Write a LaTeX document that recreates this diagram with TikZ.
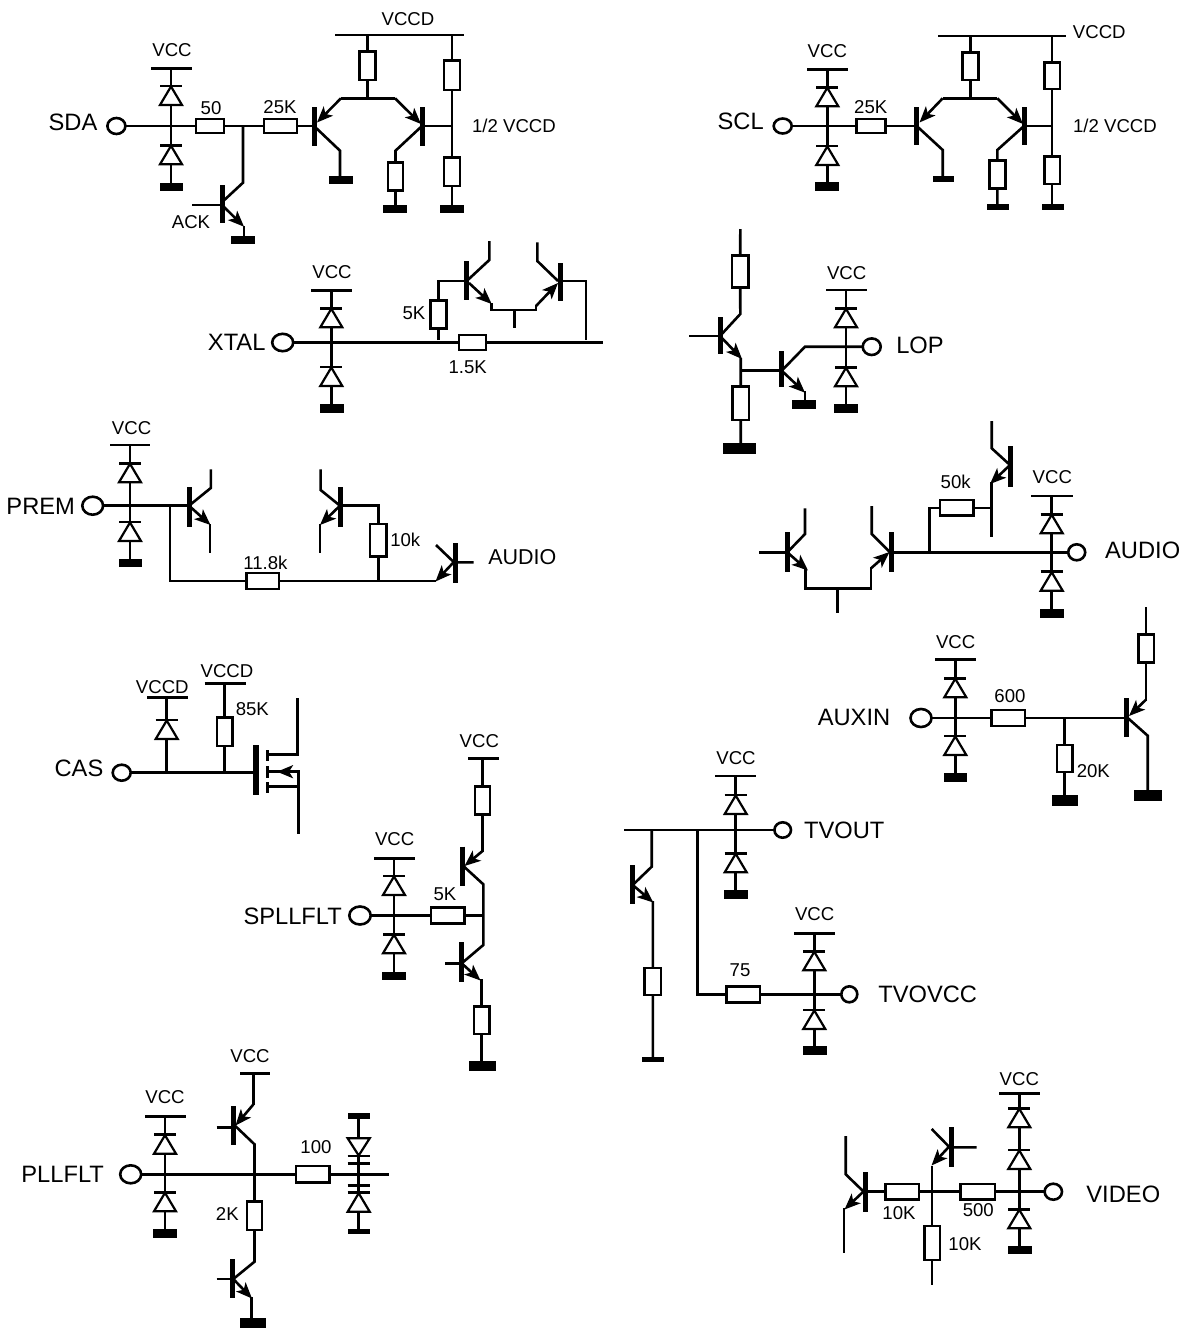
\documentclass[tikz,border=0pt]{standalone}
\usepackage{fontspec}
\setmainfont{Liberation Sans}
\usetikzlibrary{arrows.meta,shapes.geometric}
\tikzset{
  w/.style={line width=2.6pt},
  ar/.style={line width=2.6pt,-{Stealth[length=16pt,width=13pt,inset=4pt]}},
  resbox/.style={draw,line width=2.6pt,fill=white,inner sep=0pt,outer sep=0pt,rectangle},
  termnode/.style={draw,line width=2.6pt,fill=white,inner sep=0pt,outer sep=0pt,ellipse},
  small/.style={inner sep=0pt,font=\fontsize{18.6}{21}\selectfont},
  big/.style={inner sep=0pt,font=\fontsize{23.7}{26}\selectfont}
}
% name x1 y1 x2 y2
\newcommand{\cRes}[5]{\node[resbox,minimum width={(#4)-(#2)},minimum height={(#5)-(#3)}] (#1) at ({(#2+#4)/2},{(#3+#5)/2}) {};}
% name cx cy rx ry
\newcommand{\cTerm}[5]{\node[termnode,minimum width={2*(#4)},minimum height={2*(#5)}] (#1) at (#2,#3) {};}
% x, y of bar: bar and up triangle
\newcommand{\cDio}[2]{\draw[w] ({#1-11},#2) -- ({#1+11},#2);\draw[line width=2.2pt,fill=white,line join=miter] (#1,{#2+0.5}) -- ({#1+11},{#2+19}) -- ({#1-11},{#2+19}) -- cycle;}
% filled ground block
\newcommand{\cGnd}[4]{\fill (#1,#2) rectangle (#3,#4);}
% thick transistor bar
\newcommand{\cBar}[3]{\draw[line width=5pt] (#1,#2) -- (#1,#3);}
\newcommand{\cTxt}[4]{\node[small] (#1) at (#2,#3) {#4};}
\newcommand{\cLbl}[4]{\node[big] (#1) at (#2,#3) {#4};}
\begin{document}
\begin{tikzpicture}[x=1pt,y=-1pt]
\path[use as bounding box,fill=white] (0,0) rectangle (1189,1330);

% ---------- SDA
\cRes{aR1}{196}{119}{224}{133}
\cRes{aR2}{264}{119}{297}{133}
\cRes{aR3}{359.5}{51.7}{375.5}{80}
\cRes{aR4}{444}{60.7}{460}{90}
\cRes{aR5}{444}{157.7}{460}{186}
\cRes{aR6}{388}{162.7}{403}{190.7}
\cTerm{aT}{116.4}{126}{9}{8}
\draw[w] (aT.east) -- (aR1.west) (aR1.east) -- (aR2.west) (aR2.east) -- (314,126);
\draw[w] (151,68.3) -- (192,68.3) (171,68.3) -- (171,183);
\draw[w] (243,126) -- (243,182.7) -- (222.5,201.7);
\draw[w] (192,205) -- (222,205);
\draw[ar] (222,205) -- (244,226.7);
\draw[w] (244,226) -- (244,237);
\draw[w] (335,35) -- (464,35) (367.5,35) -- (aR3.north) (aR3.south) -- (367.5,98.3);
\draw[w] (452,35) -- (aR4.north) (aR4.south) -- (aR5.north) (aR5.south) -- (452,206);
\draw[w] (395,98.3) -- (341,98.3);
\draw[ar] (341,98.3) -- (317,122.5);
\draw[ar] (395,98.3) -- (421,124);
\draw[w] (422,126) -- (452,126);
\draw[w] (314,126) -- (340,150.7) -- (340,177);
\draw[w] (422,126) -- (395.5,150.7) -- (aR6.north) (aR6.south) -- (395.5,206);
\cDio{171}{86}\cDio{171}{145.3}
\cGnd{160}{182.7}{183}{190.7}
\cGnd{231}{236}{255}{244.3}
\cGnd{329}{176}{353}{184.3}
\cGnd{383}{205}{407}{213.3}
\cGnd{439.5}{205}{463.5}{213.3}
\cBar{222}{185}{222.7}\cBar{314}{107.3}{145.7}\cBar{422}{107.3}{145.7}
\cTxt{aL1}{172}{50.5}{VCC}\cTxt{aL2}{408}{19}{VCCD}\cTxt{aL3}{211}{108.5}{50}\cTxt{aL4}{280}{107.5}{25K}
\cLbl{aL5}{73}{122.5}{SDA}\cTxt{aL6}{514}{126}{1/2 VCCD}\cTxt{aL7}{191}{221.7}{ACK}

% ---------- SCL
\cRes{bR2}{856.7}{119}{885.3}{133}
\cRes{bR3}{962.7}{52.7}{978.3}{80}
\cRes{bR4}{1044.3}{62.3}{1060}{89}
\cRes{bR5}{1044.3}{156.7}{1060}{184}
\cRes{bR6}{989.3}{160.7}{1005.3}{188.3}
\cTerm{bT}{782.7}{126}{9}{7.5}
\draw[w] (bT.east) -- (bR2.west) (bR2.east) -- (916.7,126);
\draw[w] (807.3,69.3) -- (847.7,69.3) (827.3,69.3) -- (827.3,183);
\draw[w] (938.3,36) -- (1065.7,36) (970.5,36) -- (bR3.north) (bR3.south) -- (970.5,98.3);
\draw[w] (1052.15,36) -- (bR4.north) (bR4.south) -- (bR5.north) (bR5.south) -- (1052.15,205);
\draw[w] (997.3,98.3) -- (942.7,98.3);
\draw[ar] (942.7,98.3) -- (919.5,122.5);
\draw[ar] (997.3,98.3) -- (1023,124);
\draw[w] (1024,126) -- (1052,126);
\draw[w] (916.7,126) -- (942.7,150) -- (942.7,177);
\draw[w] (1024,126) -- (997.3,150) -- (bR6.north) (bR6.south) -- (997.3,205);
\cDio{827.3}{87.3}\cDio{827.3}{146}
\cGnd{815}{182.3}{839}{190.7}
\cGnd{932.7}{176}{954}{181.7}
\cGnd{987.3}{204}{1009}{210}
\cGnd{1042}{204}{1064}{210}
\cBar{916.7}{107.3}{145}\cBar{1024}{107.3}{145}
\cTxt{bL1}{827.3}{50.7}{VCC}\cTxt{bL2}{1099.3}{31.7}{VCCD}\cTxt{bL4}{870.7}{106.7}{25K}
\cLbl{bL5}{740.7}{121.7}{SCL}\cTxt{bL6}{1115}{126}{1/2 VCCD}

% ---------- XTAL
\cRes{cR1}{430.7}{300.7}{446.3}{328.3}
\cRes{cR2}{459}{335}{486}{350}
\cTerm{cT}{282.7}{342.5}{10.5}{8.7}
\draw[w] (cT.east) -- (cR2.west) (cR2.east) -- (602.7,342.5);
\draw[w] (311,290.3) -- (352,290.3) (331.3,290.3) -- (331.3,405);
\draw[w] (438.5,340) -- (cR1.south) (cR1.north) -- (438.5,281) -- (466.7,281);
\draw[w] (489.3,241) -- (489.3,260) -- (466.7,281);
\draw[ar] (469,283) -- (491.7,304);
\draw[w] (491.7,303) -- (491.7,310) -- (536,310) -- (536,305);
\draw[ar] (536,306) -- (558,283);
\draw[w] (558,281) -- (537.3,261) -- (537.3,242.3);
\draw[w] (560,281) -- (586,281) -- (586,339.5);
\draw[w] (514.3,310) -- (514.3,327.7);
\cDio{331.3}{308.3}\cDio{331.3}{367}
\cGnd{320}{404}{344}{412.7}
\cBar{466.7}{261}{300}\cBar{560}{263}{300.7}
\cTxt{cL1}{332}{272.3}{VCC}\cTxt{cL2}{414}{312.7}{5K}\cTxt{cL3}{467.7}{366.7}{1.5K}
\cLbl{cL5}{236.7}{342.7}{XTAL}

% ---------- LOP
\cRes{dR1}{732}{255.7}{748.5}{287.7}
\cRes{dR2}{732.5}{386.7}{749}{420}
\cTerm{dT}{871.7}{346.7}{9}{8.3}
\draw[w] (740.3,229) -- (dR1.north) (dR1.south) -- (740.3,314) -- (720,336);
\draw[w] (689,336) -- (720,336);
\draw[ar] (720,336) -- (742,359);
\draw[w] (740.7,358) -- (dR2.north) (dR2.south) -- (740.7,444);
\draw[w] (741,370.7) -- (781.7,370.7);
\draw[w] (781.7,370.7) -- (805,346.7) -- (dT.west);
\draw[ar] (781.7,370.7) -- (805,392.7);
\draw[w] (805,391) -- (805,401);
\draw[w] (826,290) -- (866.7,290) (846,290) -- (846,405);
\cDio{846}{308.3}\cDio{846}{367.3}
\cGnd{792.3}{400}{816}{409}
\cGnd{834}{404.3}{857.7}{412.7}
\cGnd{723.3}{443.3}{755.7}{454}
\cBar{720}{317.3}{354.3}\cBar{781.7}{351}{387.3}
\cTxt{dL1}{846.7}{273}{VCC}\cLbl{dL5}{920}{345.5}{LOP}

% ---------- PREM
\cRes{eR1}{246.5}{573}{279}{589}
\cRes{eR2}{370}{524}{386.4}{556.7}
\cTerm{eT}{92.7}{505.7}{10.4}{9}
\draw[w] (eT.east) -- (189,505.7);
\draw[w] (110,445) -- (150,445) (130,445) -- (130,560);
\draw[w] (170,505.7) -- (170,581) -- (eR1.west) (eR1.east) -- (435.5,581);
\draw[w] (189,505.7) -- (210.8,488) -- (210.8,469.3);
\draw[ar] (189,505.7) -- (210.5,525);
\draw[w] (210,524) -- (210,552.7);
\draw[w] (340,505.7) -- (320.6,490) -- (320.6,469.3);
\draw[ar] (340,505.7) -- (320,525);
\draw[w] (320,524) -- (320,552.7);
\draw[w] (340.6,505.7) -- (378.2,505.7) -- (eR2.north) (eR2.south) -- (378.2,581);
\draw[w] (455,562.3) -- (473.6,562.3) (454,562.3) -- (436,545);
\draw[ar] (453.6,562.3) -- (435.5,581.5);
\cDio{130}{463.3}\cDio{130}{522}
\cGnd{119}{559.3}{142}{567.3}
\cBar{189}{487.3}{526.7}\cBar{340.6}{487.3}{526.7}\cBar{455}{543.3}{583.3}
\cTxt{eL1}{131.6}{428.3}{VCC}\cTxt{eL2}{405.3}{540}{10k}\cTxt{eL3}{265.4}{563.3}{11.8k}
\cLbl{eL5}{40.7}{506.7}{PREM}\cTxt{eL6}{522.4}{557.3}{\fontsize{21.5}{24}\selectfont AUDIO}

% ---------- AUDIO right
\cRes{fR1}{940}{500}{973.3}{515.6}
\cTerm{fT}{1076.7}{552.3}{8.5}{8}
\draw[w] (759,552.3) -- (787.3,552.3);
\draw[w] (787.3,552.3) -- (805,534) -- (805,508.3);
\draw[ar] (787.3,552.3) -- (808,570.5);
\draw[w] (805.7,569) -- (805.7,588.3) -- (871,588.3) -- (871,567);
\draw[ar] (871,568.3) -- (889.5,552);
\draw[w] (890,552.3) -- (871.7,534) -- (871.7,506);
\draw[w] (837.3,588.3) -- (837.3,612.7);
\draw[w] (891.3,552.3) -- (fT.west);
\draw[w] (929.3,552.3) -- (929.3,507.8) -- (fR1.west) (fR1.east) -- (991.7,507.8);
\draw[w] (991.7,482) -- (991.7,537.3);
\draw[ar] (1010,465) -- (990,484);
\draw[w] (1010,465) -- (991.7,448.3) -- (991.7,421);
\draw[w] (1031,496) -- (1072.7,496) (1051.7,496) -- (1051.7,610);
\cDio{1051.7}{514.3}\cDio{1051.7}{571.7}
\cGnd{1040}{609}{1064}{617.7}
\cBar{787.3}{532.3}{571.7}\cBar{891.3}{532.3}{571.7}\cBar{1010}{446}{486.7}
\cTxt{fL1}{1052.3}{477.3}{VCC}\cTxt{fL2}{955.7}{482.3}{50k}\cLbl{fL5}{1142.7}{550}{AUDIO}

% ---------- CAS
\cRes{gR1}{217}{717.7}{232.5}{746}
\cTerm{gT}{121.7}{772.7}{9}{8}
\draw[w] (gT.east) -- (256,772.7);
\draw[w] (147,697.3) -- (187.7,697.3) (166.7,697.3) -- (166.7,772.7);
\draw[w] (204.7,683.3) -- (245.7,683.3) (224.75,683.3) -- (gR1.north) (gR1.south) -- (224.75,774);
\draw[w] (267.3,754.3) -- (297.7,754.3) -- (297.7,698.3);
\draw[w] (267.3,786.7) -- (298.3,786.7);
\draw[w] (267.3,771.7) -- (298.3,771.7) -- (298.3,834.3);
\draw[ar] (292,771.7) -- (277,771.7);
\cDio{166.7}{720}
\draw[line width=3pt] (267.3,750) -- (267.3,761) (267.3,766) -- (267.3,778.3) (267.3,782.3) -- (267.3,793.3);
\draw[line width=6pt] (256,745) -- (256,795);
\cTxt{gL1}{162.3}{686.7}{VCCD}\cTxt{gL2}{227}{670.7}{VCCD}\cTxt{gL3}{252.3}{709}{85K}
\cLbl{gL5}{79}{768.3}{CAS}

% ---------- SPLLFLT
\cRes{hR1}{431}{907.7}{464.3}{923.3}
\cRes{hR2}{475}{786.7}{490}{814.3}
\cRes{hR3}{474}{1006.7}{489.3}{1034}
\cTerm{hT}{360}{915.5}{10.7}{9}
\draw[w] (hT.east) -- (hR1.west) (hR1.east) -- (483.3,915.5);
\draw[w] (374,858.3) -- (415,858.3) (394,858.3) -- (394,972);
\draw[w] (468.3,758.3) -- (498.7,758.3) (482.5,758.3) -- (hR2.north) (hR2.south) -- (482.5,851.7);
\draw[ar] (482.5,851) -- (464.5,866);
\draw[w] (463,865.7) -- (483.3,884.3) -- (483.3,945) -- (461.7,963.3);
\draw[w] (445,963.3) -- (461.7,963.3);
\draw[ar] (461.7,963.3) -- (480.5,980.5);
\draw[w] (481.65,979) -- (hR3.north) (hR3.south) -- (481.65,1061);
\cDio{394}{876}\cDio{394}{934.3}
\cGnd{382.3}{971.7}{406}{980}
\cGnd{469.3}{1060.7}{496}{1070.7}
\cBar{462.3}{846.7}{886}\cBar{461.7}{942.3}{981.7}
\cTxt{hL1}{479.3}{740.7}{VCC}\cTxt{hL2}{394.7}{839.3}{VCC}\cTxt{hL3}{445}{894}{5K}
\cLbl{hL5}{292.7}{916}{SPLLFLT}

% ---------- TVOUT
\cRes{iR1}{644.7}{968}{661}{995}
\cRes{iR2}{726.7}{986.3}{760}{1002.3}
\cTerm{iT}{782.7}{830}{8.3}{7.7}
\cTerm{jT}{849.3}{994.3}{8}{8}
\draw[w] (624,830) -- (iT.west);
\draw[w] (715,776) -- (755.7,776) (735.7,776) -- (735.7,891);
\draw[w] (651.7,830) -- (651.7,866.7) -- (632.7,885);
\draw[ar] (632.7,885) -- (653.3,902.5);
\draw[w] (652.85,901) -- (iR1.north) (iR1.south) -- (652.85,1057);
\draw[w] (697.7,830) -- (697.7,994.3) -- (iR2.west) (iR2.east) -- (jT.west);
\draw[w] (794,933.3) -- (835,933.3) (814.3,933.3) -- (814.3,1047);
\cDio{735.7}{795}\cDio{735.7}{853.3}\cDio{814.3}{951.3}\cDio{814.3}{1010}
\cGnd{724}{890}{747.7}{898.7}
\cGnd{803.3}{1046}{826.7}{1054.7}
\cGnd{642.3}{1056.7}{664}{1061.7}
\cBar{632.7}{865}{904.3}
\cTxt{iL1}{736}{758.3}{VCC}\cTxt{iL2}{814.7}{914}{VCC}\cTxt{iL3}{740}{970}{75}
\cLbl{iL5}{844.3}{830.7}{TVOUT}\cLbl{iL6}{927.7}{994}{TVOVCC}

% ---------- AUXIN
\cRes{kR1}{991.7}{710}{1025}{726}
\cRes{kR2}{1057}{745}{1072.3}{772}
\cRes{kR3}{1138.3}{634.7}{1154}{662.7}
\cTerm{kT}{921}{718}{10.5}{9}
\draw[w] (kT.east) -- (kR1.west) (kR1.east) -- (1126.7,718);
\draw[w] (935,659.3) -- (975.7,659.3) (955.3,659.3) -- (955.3,774);
\draw[w] (1064.65,718) -- (kR2.north) (kR2.south) -- (1064.65,796);
\draw[w] (1146.15,607.3) -- (kR3.north) (kR3.south) -- (1146.15,700);
\draw[ar] (1146.15,699.5) -- (1129,716);
\draw[w] (1127,717.3) -- (1147.7,735.7) -- (1147.7,791);
\cDio{955.3}{678.3}\cDio{955.3}{736}
\cGnd{944}{773.3}{967.3}{781.7}
\cGnd{1052.3}{795.3}{1077.7}{805.7}
\cGnd{1134.3}{790.3}{1161.7}{800.7}
\cBar{1126.7}{698.3}{737.3}
\cTxt{kL1}{955.7}{641.7}{VCC}\cTxt{kL2}{1010}{696}{600}\cTxt{kL3}{1093.3}{770.7}{20K}
\cLbl{kL5}{854}{717.7}{AUXIN}

% ---------- PLLFLT
\cRes{lR1}{296}{1166}{329.3}{1182.6}
\cRes{lR2}{247}{1201.7}{262}{1230}
\cTerm{lT}{130.7}{1174.3}{10.5}{9}
\draw[w] (lT.east) -- (lR1.west) (lR1.east) -- (389.3,1174.3);
\draw[w] (145,1116.3) -- (185.7,1116.3) (165,1116.3) -- (165,1230);
\draw[w] (240,1073.3) -- (270,1073.3) (253.3,1073.3) -- (253.3,1105);
\draw[ar] (253.3,1104.5) -- (235.5,1125.5);
\draw[w] (216.7,1127.3) -- (233.3,1127.3);
\draw[w] (235,1125.7) -- (254.5,1144.3) -- (254.5,1174.3) -- (lR2.north) (lR2.south) -- (254.5,1261.7) -- (233.3,1279);
\draw[w] (216.7,1279) -- (233.3,1279);
\draw[ar] (233.3,1279) -- (252,1298.5);
\draw[w] (251.7,1297) -- (251.7,1319);
\draw[w] (358.7,1116) -- (358.7,1232);
\draw[line width=2.2pt,fill=white] (358.7,1155.5) -- (369.7,1138.3) -- (347.7,1138.3) -- cycle;
\draw[w] (347.7,1156) -- (369.7,1156) (347.7,1163.5) -- (369.7,1163.5) (347.7,1185.5) -- (369.7,1185.5);
\cDio{358.7}{1192.7}
\cDio{165}{1134.7}\cDio{165}{1192.3}
\cGnd{153.3}{1229.3}{176.7}{1237.7}
\cGnd{240}{1318.3}{265.7}{1328.3}
\cGnd{348.3}{1113.3}{370}{1118.7}
\cGnd{348.3}{1229.3}{370}{1234.3}
\cBar{233.3}{1106}{1145.3}\cBar{232.7}{1259.3}{1298.3}
\cTxt{lL1}{250}{1055.7}{VCC}\cTxt{lL2}{165}{1097.3}{VCC}\cTxt{lL3}{316}{1146.7}{100}\cTxt{lL4}{227.3}{1214}{2K}
\cLbl{lL5}{62.7}{1174.3}{PLLFLT}

% ---------- VIDEO
\cRes{mR1}{885.3}{1184}{919}{1199.4}
\cRes{mR2}{960.7}{1184}{995}{1199.4}
\cRes{mR3}{924.3}{1226}{940}{1260}
\cTerm{mT}{1053.3}{1191.7}{8.7}{8}
\draw[w] (865.7,1191.7) -- (mR1.west) (mR1.east) -- (mR2.west) (mR2.east) -- (mT.west);
\draw[w] (999,1093.3) -- (1040,1093.3) (1019.3,1093.3) -- (1019.3,1247);
\draw[w] (932.15,1166) -- (932.15,1191.7) -- (mR3.north) (mR3.south) -- (932.15,1285);
\draw[ar] (949,1146.7) -- (931.5,1165.5);
\draw[w] (951,1147.3) -- (976.7,1147.3) (949,1146.7) -- (931.7,1129);
\draw[w] (863,1191) -- (845.7,1174.3) -- (845.7,1136);
\draw[ar] (864,1191) -- (844.5,1209.5);
\draw[w] (844,1208) -- (844,1252.7);
\cDio{1019.3}{1108.3}\cDio{1019.3}{1150}\cDio{1019.3}{1209.3}
\cGnd{1008.3}{1246}{1031.7}{1254.3}
\cBar{951.7}{1127.3}{1166.7}\cBar{865.7}{1172.3}{1211.7}
\cTxt{mL1}{1019.3}{1079.3}{VCC}\cTxt{mL2}{899}{1212.7}{10K}\cTxt{mL3}{978.3}{1210}{500}\cTxt{mL4}{965}{1244}{10K}
\cLbl{mL5}{1123.3}{1194.3}{VIDEO}
\end{tikzpicture}
\end{document}
